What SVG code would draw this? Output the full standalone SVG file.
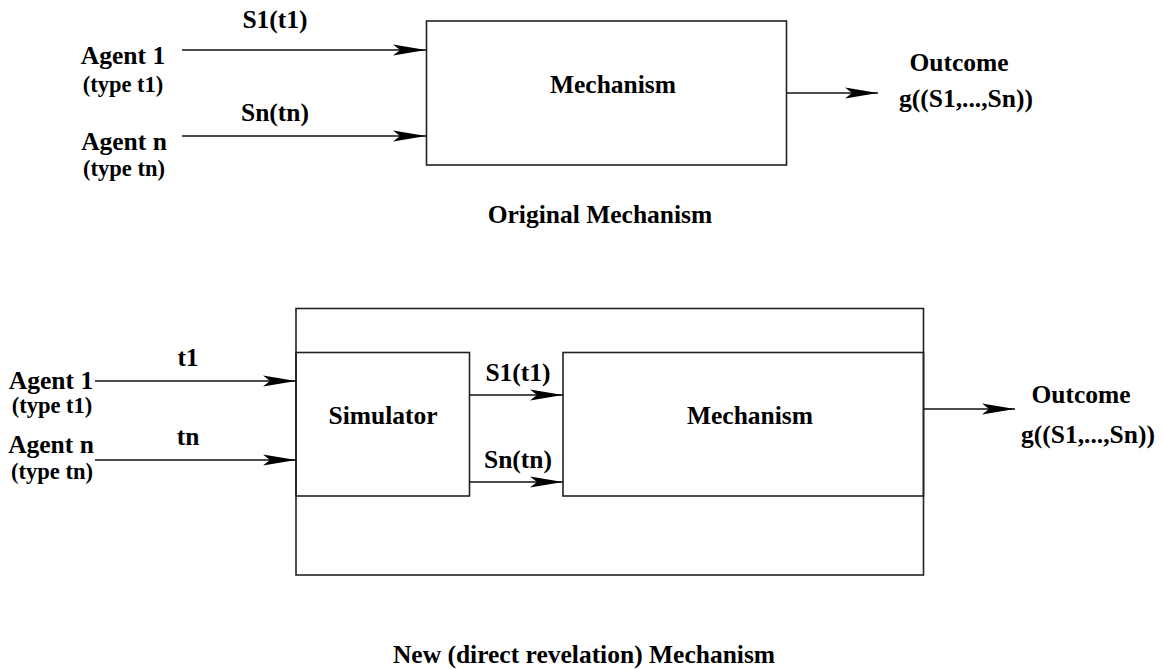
<svg xmlns="http://www.w3.org/2000/svg" width="1163" height="669" viewBox="0 0 1163 669">
  <style>
    text { font-family: "Liberation Serif", "Times New Roman", serif; font-weight: bold; fill: #000; text-anchor: middle; }
    .lbl { font-size: 25.5px; }
    .sub { font-size: 22.5px; }
    .box { fill: none; stroke: #222; stroke-width: 1.6; }
    .wire { fill: none; stroke: #111; stroke-width: 1.6; marker-end: url(#barb); }
  </style>
  <defs>
    <marker id="barb" viewBox="-34 -6 35 12" refX="0" refY="0" markerWidth="35" markerHeight="12" markerUnits="userSpaceOnUse" orient="auto">
      <path d="M0,0 L-33,-5.5 L-26,0 L-33,5.5 Z" fill="#000"/>
    </marker>
  </defs>
  <rect width="1163" height="669" fill="#fff"/>

  <!-- Original mechanism -->
  <g id="agent1-top">
    <text class="lbl" x="123" y="64">Agent 1</text>
    <text class="sub" x="123" y="92">(type t1)</text>
  </g>
  <g id="agentn-top">
    <text class="lbl" x="124" y="150">Agent n</text>
    <text class="sub" x="124" y="176">(type tn)</text>
  </g>
  <g id="mechanism-top">
    <rect class="box" x="426.5" y="21" width="360" height="144"/>
    <text class="lbl" x="613" y="93">Mechanism</text>
  </g>
  <g id="outcome-top">
    <text class="lbl" x="959" y="71">Outcome</text>
    <text class="lbl" x="966" y="107">g((S1,...,Sn))</text>
  </g>
  <text class="lbl" x="600" y="223">Original Mechanism</text>

  <!-- Direct revelation mechanism -->
  <g id="agent1-bottom">
    <text class="lbl" x="51" y="389">Agent 1</text>
    <text class="sub" x="52" y="413">(type t1)</text>
  </g>
  <g id="agentn-bottom">
    <text class="lbl" x="51" y="453">Agent n</text>
    <text class="sub" x="52" y="479">(type tn)</text>
  </g>
  <g id="wrapper">
    <rect class="box" x="296" y="308.5" width="627.5" height="266.5"/>
  </g>
  <g id="simulator">
    <rect class="box" x="296" y="352.5" width="173.5" height="143.5"/>
    <text class="lbl" x="383" y="424">Simulator</text>
  </g>
  <g id="mechanism-bottom">
    <rect class="box" x="563" y="352.5" width="360.5" height="143.5"/>
    <text class="lbl" x="750" y="424">Mechanism</text>
  </g>
  <g id="outcome-bottom">
    <text class="lbl" x="1081" y="403">Outcome</text>
    <text class="lbl" x="1088" y="443">g((S1,...,Sn))</text>
  </g>
  <text class="lbl" x="584" y="663">New (direct revelation) Mechanism</text>

  <g id="connectors">
    <path class="wire" d="M182,50 H426"/>
    <path class="wire" d="M182,136 H426"/>
    <path class="wire" d="M787,93 H878"/>
    <path class="wire" d="M95,381 H296"/>
    <path class="wire" d="M95,460 H296"/>
    <path class="wire" d="M469.5,395 H563"/>
    <path class="wire" d="M469.5,482 H563"/>
    <path class="wire" d="M924,409 H1015"/>
    <text class="lbl" x="275" y="28">S1(t1)</text>
    <text class="lbl" x="275" y="121">Sn(tn)</text>
    <text class="lbl" x="188" y="366">t1</text>
    <text class="lbl" x="188" y="445">tn</text>
    <text class="lbl" x="518" y="381">S1(t1)</text>
    <text class="lbl" x="518" y="468">Sn(tn)</text>
  </g>
</svg>
